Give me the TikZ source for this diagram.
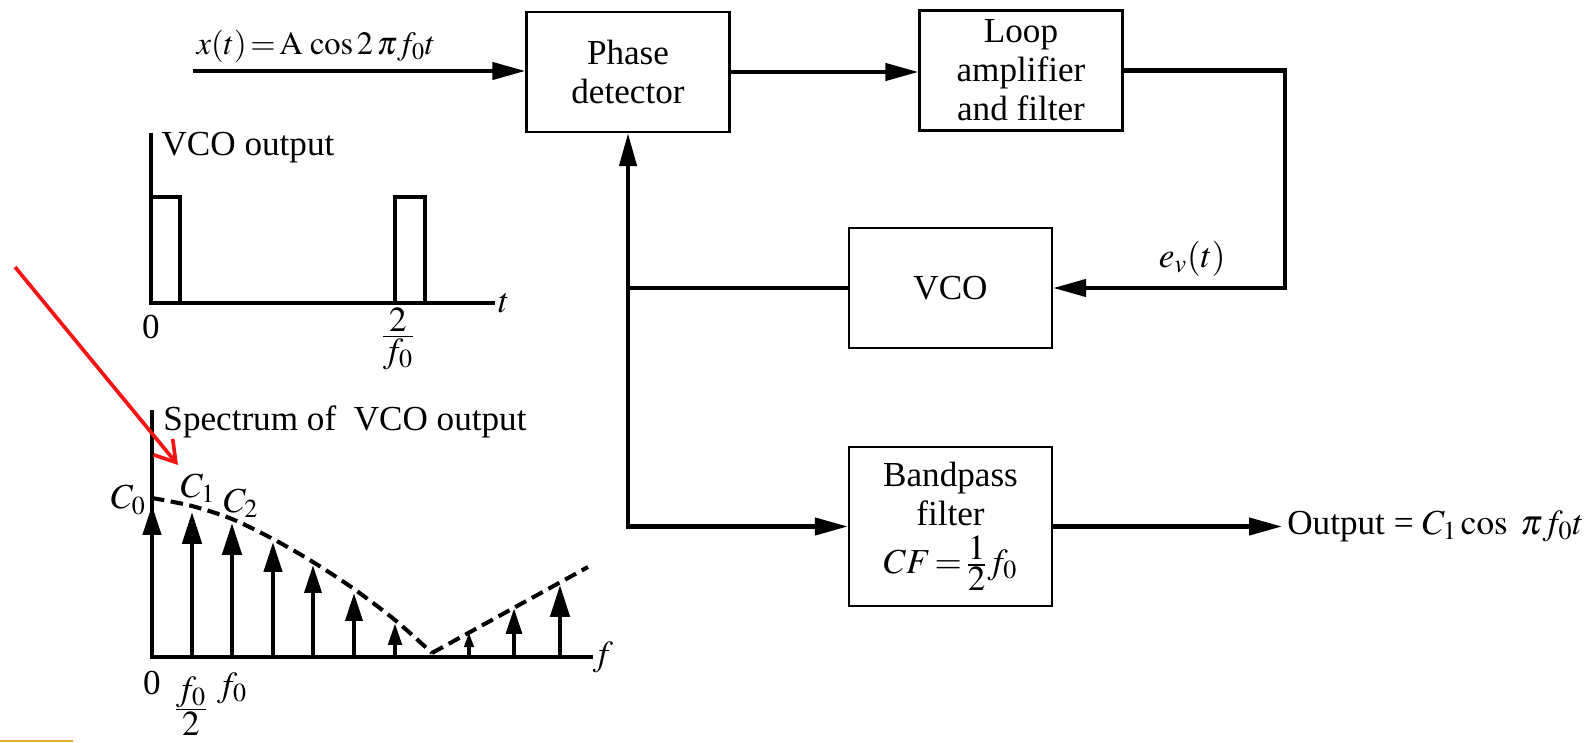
\documentclass[tikz,border=0pt]{standalone}
\usepackage{amsmath}
\usepackage{mathptmx}
\usepackage[no-math]{fontspec}
\setmainfont{Liberation Serif}
\usetikzlibrary{arrows.meta}
\definecolor{markred}{RGB}{245,20,20}
\definecolor{edgegold}{RGB}{222,172,40}

\begin{document}
\begin{tikzpicture}[x=0.02cm, y=-0.02cm,
    every node/.style={font=\fontsize{20}{22.2}\selectfont},
    >={Triangle[length=0.66cm, width=0.34cm]},
    blk/.style={draw, line width=1.3pt, minimum width=4.06cm, minimum height=2.4cm,
      align=center, inner sep=0pt},
    wire/.style={line width=2.4pt},
    axis/.style={line width=1.8pt},
    pulse/.style={line width=2.6pt},
    spike/.style={line width=2.5pt},
    env/.style={line width=2.3pt, dash pattern=on 0.25cm off 0.13cm}]
  \useasboundingbox (0,0) rectangle (1596,743);

  % loop blocks
  \node[blk] (pd) at (628,72) {Phase\\detector};
  \node[blk] (lf) at (1021,70.5) {Loop\\amplifier\\and filter};
  \node[blk] (vco) at (950.5,288) {VCO};
  \node[blk, minimum height=3.18cm] (bpf) at (950.5,526.5)
    {Bandpass\\filter\\[5pt]$CF\!=\!\frac{\textstyle 1}{\textstyle 2}f_0$};
  \node[anchor=west, inner sep=0.1cm] (out) at (1282,526)
    {Output = $C_1\cos\ \pi f_0t$};
  \node[font=\fontsize{18.5}{22}\selectfont] (xin) at (316,46)
    {$x(t)\!=\!\mathrm{A}\,\cos 2\,\pi f_0t$};
  \coordinate (in) at (193,71);
  \coordinate (rc) at (1285,70);
  \coordinate (jn) at (628,288);

  \draw[wire, ->] (in) -- (in -| pd.west);
  \draw[wire, ->] (pd.east) -- (pd.east -| lf.west);
  \draw[wire, ->] (lf.east) -| (rc |- vco.east)
    -- node[pos=0.4, above=0.08cm] (ev) {$e_v(t)$} (vco.east);
  \draw[wire] (vco.west) -- (jn);
  \draw[wire, <->] (pd.south) |- (bpf.west);
  \draw[wire, ->] (bpf.east) -- (bpf.east -| out.west);

  % VCO output waveform
  \node (wlab) at (248,148) {VCO output};
  \draw[axis] (151,133) -- (151,303) -- (495,303);
  \draw[pulse] (151,197) -- (180,197) -- (180,303);
  \draw[pulse] (395,303) -- (395,197) -- (425,197) -- (425,303);
  \node (tlab) at (504,303) {$t$};
  \node (t0) at (151,327) {0};
  \node (t2) at (398,339) {$\frac{\textstyle 2}{\textstyle f_0}$};

  % spectrum
  \node (slab) at (345,422) {Spectrum of~ VCO output};
  \draw[axis] (152,410) -- (152,657) -- (593,657);
  \foreach \x/\tp/\h [evaluate=\h as \w using 0.6*\h] in
      {152/505/6, 192/512/6.4, 232/523/6.4, 273/542/6, 313/565/5.6,
       354/593/5.6, 395/623/4.4, 469/632/3, 514/608/5.2, 560/585/6.4}
    \draw[spike, -{Triangle[length=\h mm, width=\w mm]}] (\x,657) -- (\x,\tp);
  \draw[env] plot[smooth] coordinates {(152,498) (192,506) (232,519) (273,539)
    (313,562) (354,589) (395,620) (432,653)};
  \draw[env] (432,653) -- (588,567);
  \node[anchor=east, inner sep=0.04cm] (c0) at (148,500) {$C_0$};
  \node (c1) at (198,488) {$C_1$};
  \node (c2) at (241,503) {$C_2$};
  \node (f0) at (152,683) {0};
  \node (fh) at (191,706) {$\frac{\textstyle f_0}{\textstyle 2}$};
  \node (f1) at (232,688) {$f_0$};
  \node (flab) at (603,657) {$f$};

  \draw[markred, line width=2.1pt, -{Straight Barb[length=0.4cm, width=0.5cm]}]
    (15,267) -- (178,465);
  \draw[edgegold, line width=0.04cm] (0,741) -- (73,741);
\end{tikzpicture}
\end{document}
